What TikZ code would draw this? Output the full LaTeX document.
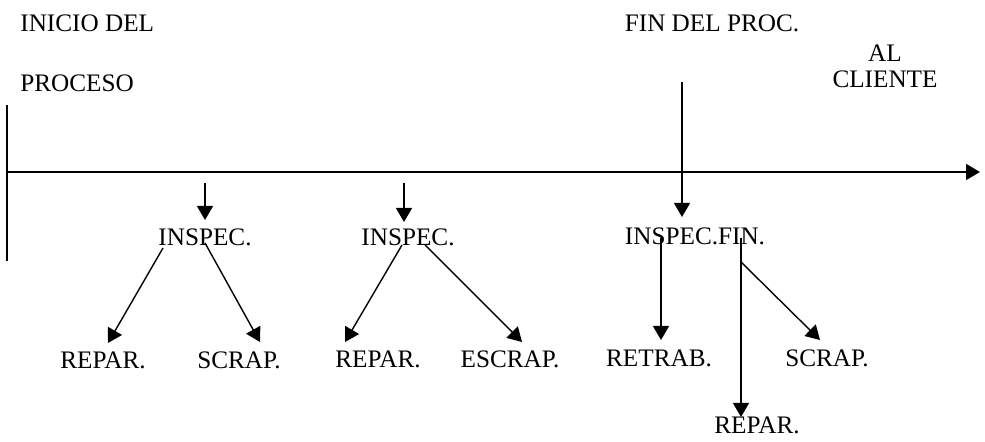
\documentclass[tikz,border=0pt]{standalone}
\usepackage{fontspec}
\setmainfont{Liberation Serif}
\usetikzlibrary{arrows.meta}

\begin{document}
\begin{tikzpicture}[x=0.5pt, y=-0.5pt, >={Triangle[length=7pt,width=8pt]},
    etiqueta/.style={font=\fontsize{12.6}{15}\selectfont, inner sep=0pt},
    flecha/.style={->, line width=0.7pt}]
    \useasboundingbox (0,0) rectangle (985,442);

    % eje del proceso
    \coordinate (inicio) at (7,172);
    \coordinate (final) at (980,172);
    \coordinate (barraA) at (7,105);
    \coordinate (barraB) at (7,261);
    \draw[flecha, line width=0.9pt] (inicio) -- (final);
    \draw[line width=0.8pt] (barraA) -- (barraB);

    % textos de arriba
    \node[etiqueta, anchor=west] (ini) at (20,23) {INICIO DEL};
    \node[etiqueta, anchor=west] (proc) at (20,83) {PROCESO};
    \node[etiqueta] (fin) at (712,23) {FIN DEL PROC.};
    \node[etiqueta, align=center, font=\fontsize{12.6}{13}\selectfont] (cliente) at (885,66) {AL\\CLIENTE};

    % 1. primera inspeccion
    \coordinate (c1) at (205,183);
    \node[etiqueta] (insp1) at (205,237) {INSPEC.};
    \node[etiqueta] (rep1) at (103,360) {REPAR.};
    \node[etiqueta] (scr1) at (239,360) {SCRAP.};
    \draw[flecha] (c1) -- ([shift={(0,-17)}]insp1.center);
    \draw[flecha] ([shift={(-42,11)}]insp1.center) -- ([shift={(5,-17)}]rep1.center);
    \draw[flecha] ([shift={(0,6)}]insp1.center) -- ([shift={(21,-18)}]scr1.center);

    % 2. segunda inspeccion
    \coordinate (c2) at (404,183);
    \node[etiqueta] (insp2) at (408,237) {INSPEC.};
    \node[etiqueta] (rep2) at (378,359) {REPAR.};
    \node[etiqueta] (escr2) at (510,359) {ESCRAP.};
    \draw[flecha] (c2) -- ([shift={(-4,-15)}]insp2.center);
    \draw[flecha] ([shift={(-6,8)}]insp2.center) -- ([shift={(-33,-17)}]rep2.center);
    \draw[flecha] ([shift={(17,8)}]insp2.center) -- ([shift={(12,-17)}]escr2.center);

    % 3. inspeccion final
    \coordinate (c3) at (682,82);
    \node[etiqueta] (insp3) at (695,236) {INSPEC.FIN.};
    \node[etiqueta] (retr) at (659,358) {RETRAB.};
    \node[etiqueta] (scr3) at (827,358) {SCRAP.};
    \node[etiqueta] (rep3) at (757,425) {REPAR.};
    \draw[flecha] (c3) -- ([shift={(-13,-19)}]insp3.center);
    \draw[flecha] ([shift={(-34,2)}]insp3.center) -- ([shift={(2,-18)}]retr.center);
    \draw[flecha] ([shift={(46,2)}]insp3.center) -- ([shift={(-16,-8)}]rep3.center);
    \draw[flecha] ([shift={(46,26)}]insp3.center) -- ([shift={(-7,-18)}]scr3.center);

\end{tikzpicture}
\end{document}
